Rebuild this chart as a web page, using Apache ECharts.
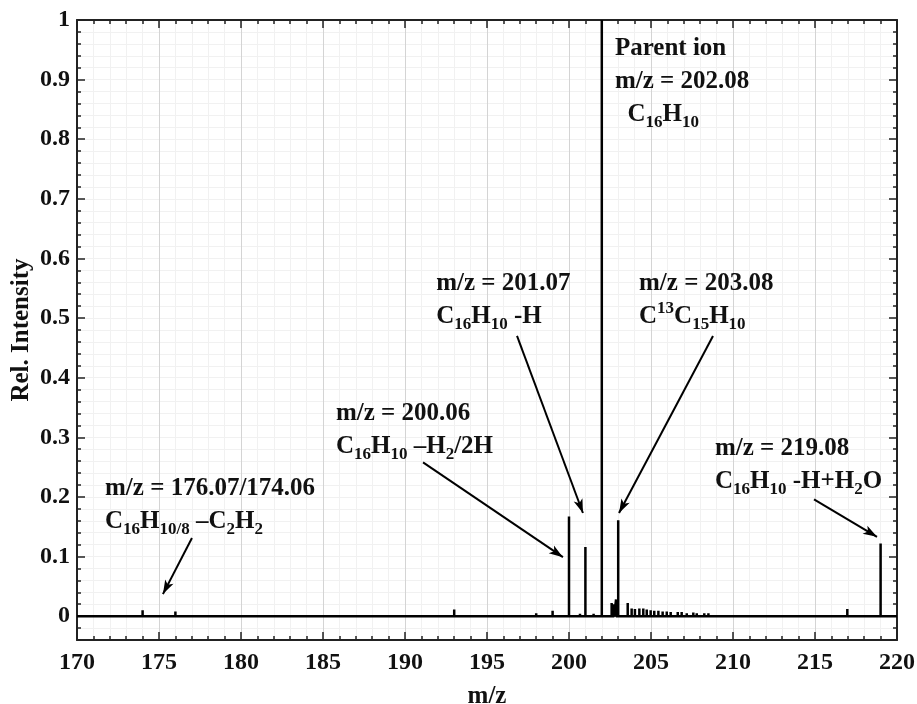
<!DOCTYPE html>
<html><head><meta charset="utf-8">
<script src="https://cdn.jsdelivr.net/npm/echarts@6/dist/echarts.min.js"></script>
<style>html,body{margin:0;padding:0;background:#fff}#c{width:917px;height:704px}</style>
</head><body><div id="c"></div>
<script>
// ---- data ----
const xTicks = [170,175,180,185,190,195,200,205,210,215,220];
const yTicks = [0,0.1,0.2,0.3,0.4,0.5,0.6,0.7,0.8,0.9,1];
const peakMz  = [174.0,176.0,193.0,198.0,199.0,200.0,200.67,201.0,201.5,202.0,202.6,202.75,202.87,203.0,203.58,203.82,204.02,204.29,204.53,204.74,204.98,205.2,205.45,205.71,205.96,206.2,206.63,206.87,207.18,207.58,207.79,208.25,208.5,208.8,209.2,209.7,210.2,211.0,211.6,212.2,213.0,213.8,214.6,216.97,219.0];
const peakInt = [0.010,0.008,0.011,0.005,0.009,0.167,0.004,0.116,0.004,1.0,0.022,0.020,0.028,0.161,0.022,0.013,0.012,0.013,0.013,0.011,0.010,0.009,0.009,0.008,0.008,0.007,0.007,0.007,0.005,0.006,0.005,0.005,0.005,0.003,0.003,0.002,0.003,0.002,0.002,0.002,0.002,0.002,0.002,0.012,0.122];
const noteText = [
  'Parent ion\nm/z = 202.08\n  C{s|16}H{s|10}',
  'm/z = 201.07\nC{s|16}H{s|10} -H',
  'm/z = 203.08\nC{p|13}C{s|15}H{s|10}',
  'm/z = 200.06\nC{s|16}H{s|10} \u2013H{s|2}/2H',
  'm/z = 176.07/174.06\nC{s|16}H{s|10/8} \u2013C{s|2}H{s|2}',
  'm/z = 219.08\nC{s|16}H{s|10} -H+H{s|2}O'
];
const noteAt = [[202.8,0.98],[191.9,0.586],[204.27,0.586],[185.79,0.367],[171.71,0.242],[208.9,0.309]];
const arrows = [
  [[177.01,0.131],[175.24,0.037]],
  [[191.1,0.258],[199.63,0.099]],
  [[196.83,0.47],[200.85,0.173]],
  [[208.78,0.47],[203.05,0.173]],
  [[214.94,0.196],[218.78,0.133]]
];
// ---- build ----
const stick = [[170,0]];
peakMz.forEach((m,i)=>{ stick.push([m,0],[m,peakInt[i]],[m,0]); });
stick.push([220,0]);

const FONT = 'Liberation Serif';
const INK = '#111';
const axisLineStyle = {color:'#222', width:2};
const chart = echarts.init(document.getElementById('c'), null, {renderer:'canvas'});
const xBase = {type:'value', min:170, max:220, interval:5,
  axisLine:{show:true, onZero:false, lineStyle:axisLineStyle},
  axisTick:{show:true, inside:true, length:8, lineStyle:{color:'#222', width:1.5}},
  minorTick:{show:true, splitNumber:5, length:4, lineStyle:{color:'#222', width:1.5}}};
const yMain = {type:'value', min:-0.04, max:1, splitNumber:10,
  axisLine:{show:true, onZero:false, lineStyle:axisLineStyle},
  axisTick:{show:true, inside:true, length:8, lineStyle:{color:'#222', width:1.5}}};
const yMinor = {type:'value', min:-0.04, max:1, interval:0.02,
  axisLine:{show:false}, axisLabel:{show:false},
  axisTick:{show:true, inside:true, length:4, lineStyle:{color:'#222', width:1.5}},
  splitLine:{show:true, lineStyle:{color:'#f1f1f1', width:1}}};

chart.setOption({
  animation:false,
  backgroundColor:'#fff',
  grid:{left:77, right:20, top:20, bottom:64, containLabel:false, outerBoundsMode:'none'},
  xAxis:[
    Object.assign({}, xBase, {position:'bottom', name:'m/z', nameLocation:'middle', nameGap:44,
      nameTextStyle:{fontFamily:FONT, fontWeight:'bold', fontSize:25, color:INK},
      axisLabel:{fontFamily:FONT, fontWeight:'bold', fontSize:24, color:INK, margin:11},
      splitLine:{show:true, lineStyle:{color:'#d4d4d4', width:1}},
      minorSplitLine:{show:true, lineStyle:{color:'#f1f1f1', width:1}}}),
    Object.assign({}, xBase, {position:'top', axisLabel:{show:false}, splitLine:{show:false}})
  ],
  yAxis:[
    Object.assign({}, yMain, {position:'left', name:'Rel. Intensity', nameLocation:'middle', nameGap:43,
      nameMoveOverlap:false,
      nameTextStyle:{fontFamily:FONT, fontWeight:'bold', fontSize:25, color:INK},
      axisLabel:{fontFamily:FONT, fontWeight:'bold', fontSize:24, color:INK, margin:7, showMinLabel:false,
        formatter:v=> (Math.abs(v)<1e-9?'0':(Math.abs(v-1)<1e-9?'1':v.toFixed(1)))},
      splitLine:{show:true, lineStyle:{color:'#d4d4d4', width:1}}}),
    Object.assign({}, yMain, {position:'right', axisLabel:{show:false}, splitLine:{show:false}}),
    Object.assign({}, yMinor, {position:'left'}),
    Object.assign({}, yMinor, {position:'right', splitLine:{show:false}})
  ],
  series:[
    {type:'line', name:'spectrum', data:stick, xAxisIndex:0, yAxisIndex:0, symbol:'none',
      lineStyle:{color:'#000', width:2.5}, z:5,
      markLine:{silent:true, symbol:['none','arrow'], symbolSize:[7,14], label:{show:false},
        lineStyle:{color:'#000', width:2, type:'solid'},
        data: arrows.map(a=>[{coord:a[0]},{coord:a[1]}])}},
    {type:'scatter', name:'notes', xAxisIndex:0, yAxisIndex:0, symbolSize:0, silent:true,
      itemStyle:{color:'#000', opacity:1}, z:6,
      data: noteAt.map((p,i)=>({value:p, label:{formatter:noteText[i]}})),
      label:{show:true, position:[0,0], align:'left', verticalAlign:'top',
        fontFamily:FONT, fontWeight:'bold', fontSize:25, color:INK, lineHeight:33, opacity:1,
        rich:{
          s:{fontFamily:FONT, fontWeight:'bold', fontSize:17, color:INK, lineHeight:17, verticalAlign:'bottom'},
          p:{fontFamily:FONT, fontWeight:'bold', fontSize:17, color:INK, lineHeight:17, verticalAlign:'top'}
        }}}
  ]
});
</script></body></html>
